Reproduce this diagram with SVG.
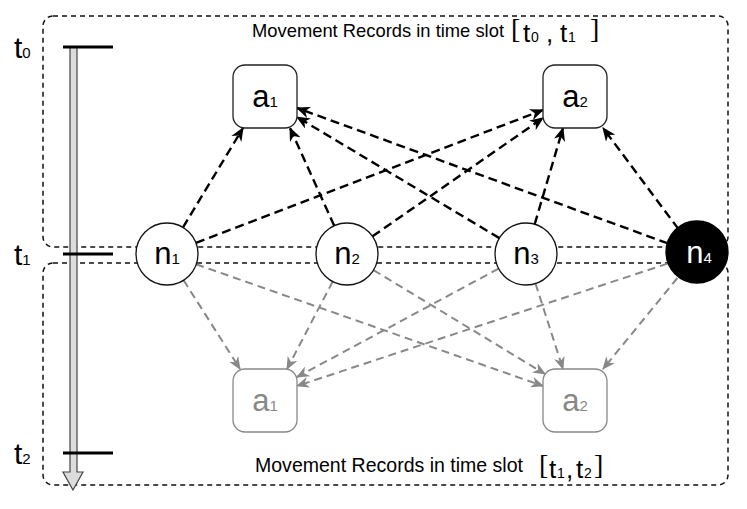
<svg xmlns="http://www.w3.org/2000/svg" width="747" height="509" viewBox="0 0 747 509">
<style>
.slot{fill:none;stroke:#111;stroke-width:1.5;stroke-dasharray:5 4}
.tick{stroke:#000;stroke-width:3}
.lbl{font-family:"Liberation Sans",Arial,sans-serif;fill:#000;font-size:30px}
.sub{font-size:15px}
.title{font-family:"Liberation Sans",Arial,sans-serif;fill:#000}
.bt{font-family:"Liberation Sans",Arial,sans-serif;fill:#000;font-size:26px}
.bs{font-family:"Liberation Sans",Arial,sans-serif;fill:#000;font-size:14px}
.br{font-family:"Liberation Serif","Times New Roman",serif;fill:#000;font-size:28px}
.e1{fill:none;stroke:#000;stroke-width:2.4;stroke-dasharray:9 5;marker-end:url(#ab)}
.e2{fill:none;stroke:#888;stroke-width:2;stroke-dasharray:8 5;marker-end:url(#ag)}
.box{fill:#fff;stroke:#222;stroke-width:1.3}
.boxg{fill:#fff;stroke:#888;stroke-width:1.3}
.circ{fill:#fff;stroke:#111;stroke-width:1.3}
.nt{font-family:"Liberation Sans",Arial,sans-serif;font-size:31px;text-anchor:middle}
</style>
<defs>
<marker id="ab" viewBox="0 0 12 10" refX="11" refY="5" markerWidth="14" markerHeight="12" markerUnits="userSpaceOnUse" orient="auto"><path d="M0,0 L12,5 L0,10 L3.5,5 Z" fill="#000"/></marker>
<marker id="ag" viewBox="0 0 12 10" refX="11" refY="5" markerWidth="13" markerHeight="11" markerUnits="userSpaceOnUse" orient="auto"><path d="M0,0 L12,5 L0,10 L3.5,5 Z" fill="#888"/></marker>
</defs>
<rect width="747" height="509" fill="#fff"/>
<g id="slot1">
<rect class="slot" x="43" y="16" width="685" height="231" rx="10"/>
<text class="title" x="252" y="37" font-size="18.4" textLength="252" lengthAdjust="spacingAndGlyphs">Movement Records in time slot</text>
<text class="br" x="511" y="38">[</text>
<text class="bt" x="523" y="42">t</text>
<text class="bs" x="531" y="42">0</text>
<text class="bt" x="546" y="42">,</text>
<text class="bt" x="560" y="42">t</text>
<text class="bs" x="568" y="42">1</text>
<text class="br" x="590" y="38">]</text>
</g>
<g id="slot2">
<rect class="slot" x="43" y="263" width="685" height="222" rx="10"/>
<text class="title" x="255" y="472" font-size="19.5" textLength="268" lengthAdjust="spacingAndGlyphs">Movement Records in time slot</text>
<text class="br" x="539" y="474">[</text>
<text class="bt" x="549" y="478">t</text>
<text class="bs" x="557" y="478">1</text>
<text class="bt" x="566" y="478">,</text>
<text class="bt" x="576" y="478">t</text>
<text class="bs" x="584" y="478">2</text>
<text class="br" x="594" y="474">]</text>
</g>
<g id="timeline">
<path d="M70,47 L70,472 L63,472 L73,490 L83,472 L77,472 L77,47 Z" fill="#dcdcdc" stroke="#444" stroke-width="1.2"/>
<line class="tick" x1="63" y1="47" x2="113" y2="47"/>
<line class="tick" x1="63" y1="254" x2="113" y2="254"/>
<line class="tick" x1="63" y1="453" x2="113" y2="453"/>
<text class="lbl" x="14" y="58">t<tspan class="sub">0</tspan></text>
<text class="lbl" x="14" y="265">t<tspan class="sub">1</tspan></text>
<text class="lbl" x="14" y="464">t<tspan class="sub">2</tspan></text>
</g>
<g id="connectors">
<path class="e1" d="M183,227.4 L243,128"/>
<path class="e1" d="M334.2,225.8 L290,128"/>
<path class="e1" d="M499.4,238.1 L297,117"/>
<path class="e1" d="M667.9,243.4 L297,108"/>
<path class="e1" d="M196,242.9 L543,110"/>
<path class="e1" d="M372.5,236.3 L543,118"/>
<path class="e1" d="M534.7,224.2 L563,128"/>
<path class="e1" d="M678.5,229.1 L603,128"/>
<path class="e2" d="M183.6,280.2 L240,369"/>
<path class="e2" d="M332.7,281.5 L287,369"/>
<path class="e2" d="M498.6,268.6 L297,377"/>
<path class="e2" d="M667.5,263.6 L297,386"/>
<path class="e2" d="M196.2,264.3 L543,386"/>
<path class="e2" d="M373.5,270.1 L545,374"/>
<path class="e2" d="M535.5,283.5 L563,369"/>
<path class="e2" d="M677.4,278 L603,369"/>
</g>
<g id="a1_top">
<rect class="box" x="233" y="65" width="64" height="63" rx="12"/>
<text class="nt" x="265" y="107">a<tspan class="sub">1</tspan></text>
</g>
<g id="a2_top">
<rect class="box" x="543" y="65" width="64" height="63" rx="12"/>
<text class="nt" x="575" y="107">a<tspan class="sub">2</tspan></text>
</g>
<g id="a1_bottom">
<rect class="boxg" x="233" y="369" width="64" height="63" rx="12"/>
<text class="nt" x="265" y="411" fill="#888">a<tspan class="sub">1</tspan></text>
</g>
<g id="a2_bottom">
<rect class="boxg" x="543" y="369" width="64" height="63" rx="12"/>
<text class="nt" x="575" y="411" fill="#888">a<tspan class="sub">2</tspan></text>
</g>
<g id="n1">
<circle class="circ" cx="167" cy="254" r="31"/>
<text class="nt" x="167" y="264">n<tspan class="sub">1</tspan></text>
</g>
<g id="n2">
<circle class="circ" cx="347" cy="254" r="31"/>
<text class="nt" x="347" y="264">n<tspan class="sub">2</tspan></text>
</g>
<g id="n3">
<circle class="circ" cx="526" cy="254" r="31"/>
<text class="nt" x="526" y="264">n<tspan class="sub">3</tspan></text>
</g>
<g id="n4">
<circle cx="697" cy="252" r="31" fill="#000" stroke="#000" stroke-width="1.3"/>
<text class="nt" x="699" y="263" fill="#fff">n<tspan class="sub">4</tspan></text>
</g>
</svg>
